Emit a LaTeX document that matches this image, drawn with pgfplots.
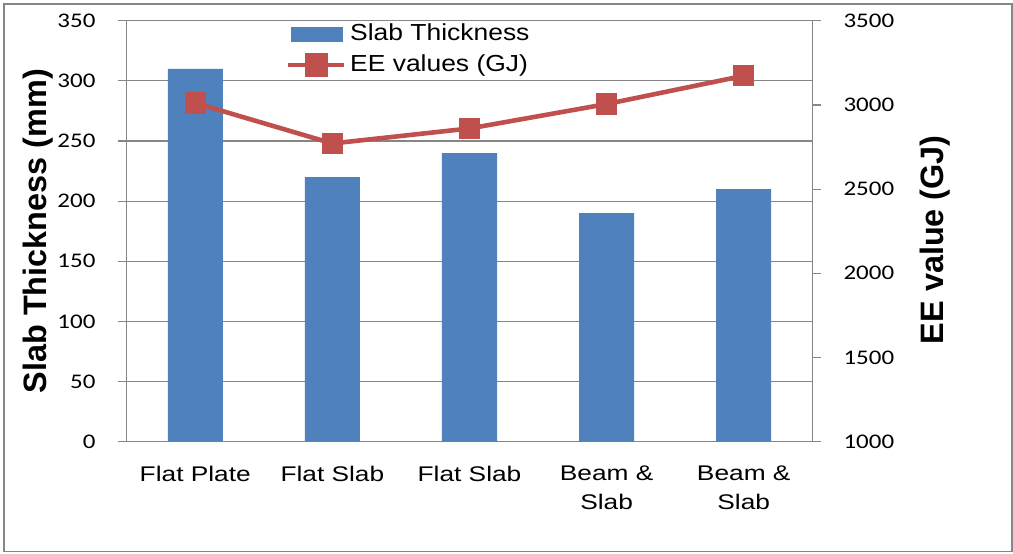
\documentclass[border=0pt]{standalone}
\usepackage{pgfplots}
\pgfplotsset{compat=1.18}
\usepackage{fontspec}
\setmainfont{Liberation Sans}
\newfontfamily\calibri{Carlito}
\definecolor{barblue}{HTML}{4F81BD}
\definecolor{linered}{HTML}{C0504D}
\definecolor{axgray}{HTML}{868686}
\begin{document}
\begin{tikzpicture}
\useasboundingbox (0pt,0pt) rectangle (506.5pt,276.5pt);
\draw[axgray, line width=0.6pt] (2pt,0.7pt) rectangle (506pt,274.5pt);
\pgfplotsset{
  common/.style={
    scale only axis, width=342.8pt, height=210.5pt,
    at={(63.35pt,55.65pt)}, anchor=south west,
    xmin=-0.5, xmax=4.5,
    axis line style={axgray, line width=0.6pt},
    tick style={axgray, line width=0.6pt},
    yticklabel={\calibri\fontsize{10.4}{12}\selectfont\pgfmathprintnumber[assume math mode=true, 1000 sep={}]{\tick}},
    major tick length=4.2pt,
    tick align=outside,
  }
}
\begin{axis}[common,
  axis y line*=left, axis x line*=bottom,
  ymin=0, ymax=350, ytick={0,50,...,350},
  yticklabel style={xscale=1.2, xshift=-6pt},
  ymajorgrids, grid style={axgray, line width=0.6pt},
  xtick={0,1,2,3,4},
  major x tick style={draw=none},
  xticklabels={Flat Plate, Flat Slab, Flat Slab, {Beam \&\\Slab}, {Beam \&\\Slab}},
  xticklabel style={align=center, font=\fontsize{10.6}{14.5}\selectfont, xscale=1.24, yshift=-4.5pt},
  ylabel={\bfseries Slab Thickness (mm)},
  ylabel style={at={(axis description cs:-0.1294,0.5)}, anchor=center, font=\fontsize{16.2}{18}\selectfont},
]
\addplot[ybar, bar width=27.5pt, fill=barblue, draw=none, bar shift=0pt]
  coordinates {(0,310) (1,220) (2,240) (3,190) (4,210)};
\end{axis}
\begin{axis}[common,
  axis y line*=right, axis x line=none,
  ymin=1000, ymax=3500, ytick={1000,1500,...,3500},
  yticklabel style={xscale=1.2, xshift=6pt},
  ylabel={\bfseries EE value (GJ)},
  ylabel style={at={(axis description cs:1.179,0.48)}, anchor=center, font=\fontsize{16.2}{18}\selectfont},
  legend style={draw=none, fill=none, at={(0.232,1.0)}, anchor=north west,
    font=\fontsize{11.6}{13}\selectfont, row sep=2.5pt, inner sep=0pt,
    nodes={inner sep=1.5pt, xscale=1.14}},
  legend cell align=left,
]
\addlegendimage{legend image code/.code={\fill[barblue] (1.5pt,-3.5pt) rectangle (27pt,3.5pt);}}
\addlegendentry{Slab Thickness}
\addplot[linered, line width=2.3pt, mark=square*, mark size=4.2pt, mark options={solid, fill=linered},
  legend image code/.code={\draw[linered, line width=2.3pt] (0pt,0pt) -- (28pt,0pt); \fill[linered] (9.3pt,-4.7pt) rectangle (18.7pt,4.7pt);}]
  coordinates {(0,3011) (1,2771) (2,2860) (3,3005) (4,3173)};
\addlegendentry{EE values (GJ)}
\end{axis}
\end{tikzpicture}
\end{document}
